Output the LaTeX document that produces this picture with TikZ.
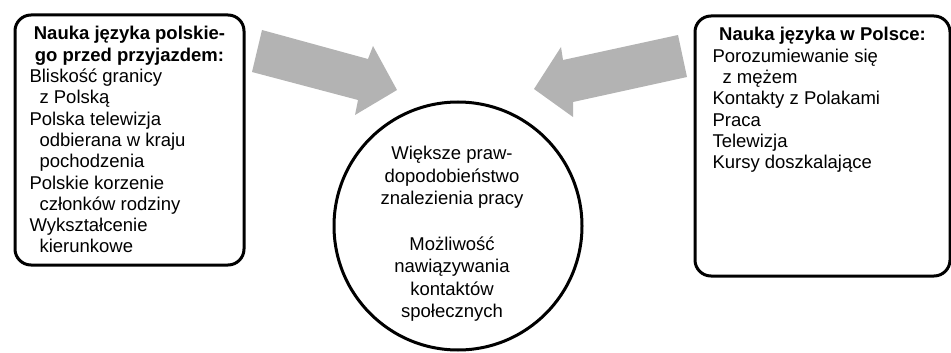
\documentclass[tikz,border=0pt]{standalone}
\usepackage{fontspec}
\setmainfont{Liberation Sans}
\definecolor{strzalka}{RGB}{179,179,179}
\newcommand{\wc}{\hspace*{10pt}}

\begin{document}
\begin{tikzpicture}[
  x=1pt, y=-1pt,
  every node/.style={font=\fontsize{18.5}{21.3}\selectfont},
  ramka/.style={draw, line width=3pt, rounded corners=16pt, anchor=north west,
    inner ysep=11.5pt},
  kolo/.style={draw, circle, line width=3pt, minimum size=248pt, inner sep=0pt},
  opis/.style={align=center, inner sep=0pt, font=\fontsize{18.5}{22.5}\selectfont}
]
  \useasboundingbox (0,0) rectangle (951,353);

  \fill[strzalka] (262,30) -- (368,59) -- (373,46) -- (397,90) -- (355,115)
    -- (358,100) -- (252,72) -- cycle;
  \fill[strzalka] (678,35) -- (563,60) -- (561,47) -- (534,89) -- (573,117)
    -- (573,102) -- (687,77) -- cycle;

  \node[ramka, inner xsep=14.5pt] (przed) at (13.5,13.5)
    {\parbox[t][227pt][t]{200pt}{{\centering\bfseries Nauka języka polskie-\\
      go przed przyjazdem:\par}\raggedright
      Bliskość granicy\\
      \wc z Polską\\
      Polska telewizja\\
      \wc odbierana w kraju\\
      \wc pochodzenia\\
      Polskie korzenie\\
      \wc członków rodziny\\
      Wykształcenie\\
      \wc kierunkowe}};

  \node[ramka, inner xsep=17.5pt] (wpl) at (693.5,14.5)
    {\parbox[t][237pt][t]{220pt}{{\centering\bfseries Nauka języka w Polsce:\par}
      \raggedright
      Porozumiewanie się\\
      \wc z mężem\\
      Kontakty z Polakami\\
      Praca\\
      Telewizja\\
      Kursy doszkalające}};

  \node[kolo] (efekt) at (458,226) {};
  \node[opis] (efekttxt) at (452,234)
    {Większe praw-\\dopodobieństwo\\znalezienia pracy\\[23pt]Możliwość\\
     nawiązywania\\kontaktów\\społecznych};
\end{tikzpicture}
\end{document}
